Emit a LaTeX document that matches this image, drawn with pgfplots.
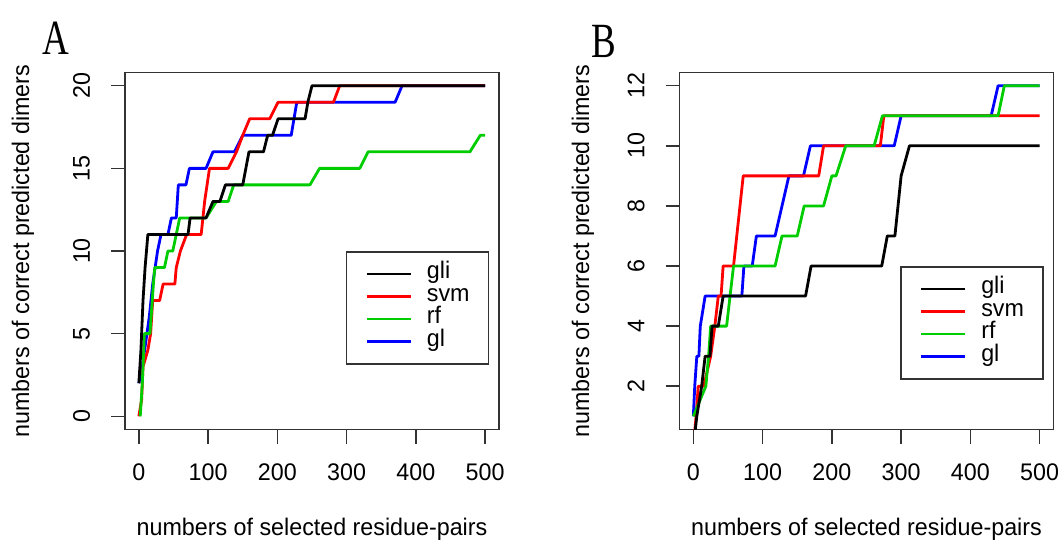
\documentclass[border=0pt]{standalone}
\usepackage{pgfplots}
\pgfplotsset{compat=1.18}
\usepackage{fontspec}
\setmainfont{Liberation Sans}[FakeStretch=0.97]
\newfontfamily\serifA{Liberation Serif}
\usepackage{graphicx}
\definecolor{rgreen}{RGB}{0,205,0}
\definecolor{rblue}{RGB}{0,0,255}
\definecolor{rred}{RGB}{255,0,0}

\begin{document}
\fontsize{24}{28}\selectfont
\begin{tikzpicture}
\useasboundingbox (0pt,0pt) rectangle (1059pt,539pt);
\pgfplotsset{
 rstyle/.style={
  scale only axis, width=374pt, height=357pt,
  anchor=south west,
  xmin=-20, xmax=520,
  xtick={0,100,...,500},
  axis line style={black!80, line width=1.5pt},
  tick style={black!80, line width=1.5pt},
  tick align=outside, major tick length=14pt,
  tick pos=left,
  /pgf/number format/assume math mode=true,
  tick label style={font=\fontsize{24}{24}\selectfont},
  xticklabel style={anchor=base, yshift=-36.5pt},
  yticklabel style={xshift=-29.5pt, rotate=90, anchor=center},
  every axis x label/.style={at={(axis description cs:0.5,0)}, anchor=base, yshift=-105.5pt},
  label style={font=\fontsize{24}{24}\selectfont},
  xlabel={numbers of selected residue-pairs},
  ylabel={numbers of correct predicted dimers},
  legend cell align=left,
  legend image code/.code={\draw[##1, line width=2.5pt] (0pt,0pt) -- (44pt,0pt);},
  legend style={anchor=north west, draw=black!80, line width=1.5pt, fill=white,
    inner xsep=19pt, inner ysep=11pt, row sep=0pt,
    nodes={inner sep=0pt, text height=16pt, text depth=6.5pt, font=\fontsize{24}{24}\selectfont},
    /tikz/every odd column/.append style={column sep=15pt}},
  every axis plot/.append style={line width=2.8pt, line join=round},
 }
}
% ---------------- Panel A ----------------
\begin{axis}[rstyle, at={(125pt,109.5pt)},
  ymin=-0.8, ymax=20.8, ytick={0,5,...,20},
  every axis y label/.style={at={(axis description cs:0,0.5)}, xshift=-102pt, rotate=90, anchor=center},
  legend style={at={(0.59,0.5)}}]
\addlegendimage{black}
\addlegendimage{rred}
\addlegendimage{rgreen}
\addlegendimage{rblue}
% gl
\addplot[rblue, forget plot] coordinates {(0,2)(5,3)(15,6)(20,8)(27,10)(32,11)(42,11)(47,12)(54,12)(57,14)(68,14)(73,15)(97,15)(107,16)(138,16)(150,17)(220,17)(228,19)(370,19)(380,20)(500,20)};
% svm
\addplot[rred, forget plot] coordinates {(0,0)(4,1)(6,3)(13,4)(17,5)(20,7)(30,7)(35,8)(52,8)(54,9)(60,10)(69,11)(90,11)(95,13)(102,15)(129,15)(141,16)(150,17)(160,18)(189,18)(201,19)(281,19)(290,20)(500,20)};
% rf
\addplot[rgreen, forget plot] coordinates {(2,0)(5,2)(8,5)(16,5)(21,8)(23,9)(37,9)(42,10)(49,10)(54,11)(59,12)(97,12)(112,13)(129,13)(137,14)(247,14)(261,15)(319,15)(331,16)(478,16)(493,17)(500,17)};
% gli
\addplot[black, forget plot] coordinates {(0,2)(3,4)(6,7)(9,9)(13,11)(71,11)(74,12)(97,12)(107,13)(117,13)(125,14)(150,14)(159,16)(180,16)(186,17)(193,17)(201,18)(240,18)(244,19)(250,20)(500,20)};
\legend{gli,svm,rf,gl}
\end{axis}
% ---------------- Panel B ----------------
\begin{axis}[rstyle, at={(679.5pt,109.5pt)},
  ymin=0.56, ymax=12.44, ytick={2,4,...,12},
  every axis y label/.style={at={(axis description cs:0,0.5)}, xshift=-96.5pt, rotate=90, anchor=center},
  legend style={at={(0.5896,0.458)}}]
\addlegendimage{black}
\addlegendimage{rred}
\addlegendimage{rgreen}
\addlegendimage{rblue}
% gl
\addplot[rblue, forget plot] coordinates {(0,1)(2,2)(5,3)(8,3)(10,4)(17,5)(70,5)(73,6)(85,6)(91,7)(118,7)(138,9)(159,9)(169,10)(290,10)(300,11)(430,11)(440,12)(500,12)};
% svm
\addplot[rred, forget plot] coordinates {(0,0)(4,1)(7,2)(15,2)(25,3)(31,4)(36,5)(40,5)(43,6)(58,6)(72,9)(181,9)(188,10)(270,10)(275,11)(500,11)};
% rf
\addplot[rgreen, forget plot] coordinates {(0,1)(18,2)(22,3)(25,4)(48,4)(53,5)(58,6)(118,6)(128,7)(150,7)(160,8)(188,8)(200,9)(206,9)(220,10)(261,10)(273,11)(440,11)(449,12)(500,12)};
% gli
\addplot[black, forget plot] coordinates {(0,0)(5,1)(12,2)(17,3)(24,3)(27,4)(36,4)(43,5)(162,5)(170,6)(272,6)(280,7)(291,7)(300,9)(312,10)(500,10)};
\legend{gli,svm,rf,gl}
\end{axis}
\node at (56pt,500.7pt) {\serifA\fontsize{37}{37}\selectfont\scalebox{1}[1.33]{A}};
\node at (604pt,498pt) {\serifA\fontsize{37}{37}\selectfont\scalebox{1}[1.33]{B}};
\end{tikzpicture}
\end{document}
